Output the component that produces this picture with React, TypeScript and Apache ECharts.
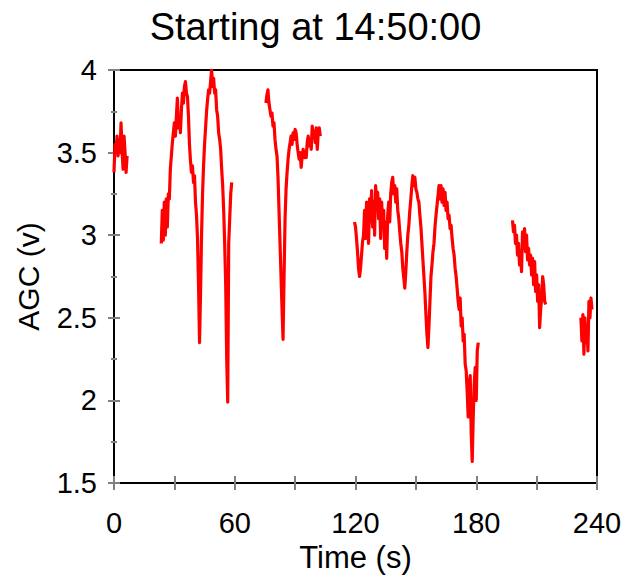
import React, { useEffect, useRef } from "react";
import * as echarts from "echarts";

// Sampling step of the recorded AGC trace (seconds)
const TIME_STEP = 0.5;

// Segment 1
const seg1Start = 0;
const seg1Values = [3.38, 3.55, 3.5, 3.6, 3.48, 3.58, 3.5, 3.68, 3.52, 3.4, 3.6, 3.5, 3.38, 3.48];

// Segment 2
const seg2Start = 23.5;
const seg2Values = [
  2.95, 3.15, 2.97, 3.2, 3.0, 3.22, 3.05, 3.25, 3.22, 3.4, 3.48, 3.56, 3.62, 3.68, 3.6, 3.72,
  3.83, 3.65, 3.72, 3.62, 3.76, 3.86, 3.8, 3.9, 3.93, 3.86, 3.84, 3.72, 3.55, 3.45, 3.38, 3.42,
  3.32, 3.36, 3.2, 3.12, 2.98, 2.7, 2.35, 2.65, 3.0, 3.25, 3.42, 3.55, 3.65, 3.75, 3.82, 3.88,
  3.86, 3.93, 4.0, 3.9, 3.95, 3.86, 3.88, 3.76, 3.72, 3.62, 3.58, 3.52, 3.4, 3.3, 3.15, 2.95,
  2.7, 2.25, 1.99, 2.95, 3.1, 3.25, 3.32,
];

// Segment 3
const seg3Start = 75.5;
const seg3Values = [
  3.8, 3.85, 3.88, 3.8, 3.76, 3.72, 3.74, 3.66, 3.68, 3.58, 3.52, 3.48, 3.35, 3.15, 2.95, 2.75,
  2.55, 2.37, 2.75, 3.1, 3.28, 3.38, 3.46, 3.52, 3.56, 3.6, 3.55, 3.62, 3.58, 3.64, 3.62, 3.55,
  3.5, 3.46, 3.5, 3.41, 3.48, 3.52, 3.47, 3.5, 3.47, 3.56, 3.6, 3.54, 3.58, 3.52, 3.66, 3.6,
  3.63, 3.56, 3.65, 3.52, 3.62, 3.65, 3.6,
];

// Segment 4
const seg4Start = 119.5;
const seg4Values = [
  3.08, 3.05, 2.98, 2.9, 2.8, 2.75, 2.8, 2.88, 2.96, 3.0, 3.15, 2.98, 3.2, 3.05, 2.95, 3.22,
  3.08, 3.27, 3.05, 3.2, 3.0, 3.3, 3.18, 3.26, 3.1, 3.22, 2.98, 3.2, 3.05, 3.15, 2.92, 3.08,
  2.86, 3.12, 3.2, 3.08, 3.25, 3.32, 3.35, 3.25, 3.3, 3.2, 3.28, 3.15, 3.1, 3.02, 2.95, 2.9,
  2.8, 2.74, 2.68, 2.78, 2.9, 3.0, 3.06, 3.15, 3.22, 3.3, 3.36, 3.3, 3.35, 3.28, 3.26, 3.22,
  3.2, 3.12, 3.05, 2.95, 2.85, 2.75, 2.65, 2.52, 2.4, 2.32, 2.45, 2.6, 2.75, 2.82, 2.9, 2.95,
  3.05, 3.12, 3.18, 3.24, 3.3, 3.22, 3.3, 3.2, 3.28, 3.18, 3.26, 3.15, 3.2, 3.1, 3.12, 3.04,
  3.06, 2.98, 2.92, 2.88, 2.8, 2.75, 2.68, 2.6, 2.55, 2.62, 2.45, 2.5, 2.36, 2.4, 2.22, 2.18,
  2.05, 1.9, 2.1, 2.15, 1.8, 1.63, 1.9, 2.1, 2.2, 2.0, 2.3, 2.35,
];

// Segment 5
const seg5Start = 198;
const seg5Values = [
  3.09, 3.02, 3.06, 2.95, 3.0, 2.88, 2.95, 2.82, 2.9, 2.78, 3.02, 2.92, 3.04, 2.9, 3.0, 2.85,
  2.92, 2.82, 2.88, 2.76, 2.86, 2.7, 2.84, 2.66, 2.76, 2.6, 2.7, 2.44, 2.55, 2.62, 2.75, 2.7,
  2.6, 2.58,
];

// Segment 6
const seg6Start = 232;
const seg6Values = [2.5, 2.36, 2.52, 2.28, 2.5, 2.35, 2.45, 2.3, 2.6, 2.5, 2.62, 2.55];

const segments: [number, number[]][] = [
  [seg1Start, seg1Values],
  [seg2Start, seg2Values],
  [seg3Start, seg3Values],
  [seg4Start, seg4Values],
  [seg5Start, seg5Values],
  [seg6Start, seg6Values],
];

const X_MIN = 0;
const X_MAX = 240;
const X_TICK = 30;
const X_LABEL_EVERY = 60;
const Y_MIN = 1.5;
const Y_MAX = 4;
const Y_TICK = 0.5;

const FONT = "'Liberation Sans', Arial, sans-serif";

export default function App() {
  const ref = useRef<HTMLDivElement>(null);

  useEffect(() => {
    if (!ref.current) return;
    const chart = echarts.init(ref.current, null, { renderer: "svg" });
    const tickStyle = { color: "#808080", width: 2 };
    const series = segments.map(([start, vals]) => ({
      type: "line",
      xAxisIndex: 0,
      yAxisIndex: 0,
      showSymbol: false,
      symbol: "none",
      data: vals.map((v, i) => [start + i * TIME_STEP, v]),
      lineStyle: { color: "#ff0000", width: 3.2, join: "round" },
      itemStyle: { color: "#ff0000" },
    }));

    chart.setOption({
      animation: false,
      backgroundColor: "#ffffff",
      title: {
        text: "Starting at 14:50:00",
        left: "center",
        top: 3,
        textStyle: { fontFamily: FONT, fontSize: 38, fontWeight: "normal", color: "#000" },
      },
      grid: {
        left: 114,
        right: 34,
        top: 70,
        bottom: 96,
        show: true,
        borderColor: "#000",
        borderWidth: 2,
        backgroundColor: "transparent",
      },
      xAxis: [
        {
          type: "value",
          min: X_MIN,
          max: X_MAX,
          interval: X_TICK,
          position: "bottom",
          name: "Time (s)",
          nameLocation: "middle",
          nameGap: 52,
          nameTextStyle: { fontFamily: FONT, fontSize: 31, color: "#000" },
          axisLine: { show: true, lineStyle: { color: "#000", width: 2 } },
          axisTick: { show: true, inside: false, length: 7, lineStyle: tickStyle },
          axisLabel: {
            margin: 25,
            fontFamily: FONT,
            fontSize: 29,
            color: "#000",
            formatter: (v: number) => (v % X_LABEL_EVERY === 0 ? String(v) : ""),
          },
          splitLine: { show: false },
        },
        {
          type: "value",
          min: X_MIN,
          max: X_MAX,
          interval: X_TICK,
          position: "bottom",
          axisLine: { show: false },
          axisTick: { show: true, inside: true, length: 7, lineStyle: tickStyle },
          axisLabel: { show: false },
          splitLine: { show: false },
        },
      ],
      yAxis: [
        {
          type: "value",
          min: Y_MIN,
          max: Y_MAX,
          interval: Y_TICK,
          position: "left",
          name: "AGC (v)",
          nameLocation: "middle",
          nameGap: 71,
          nameTextStyle: { fontFamily: FONT, fontSize: 30, color: "#000" },
          axisLine: { show: true, lineStyle: { color: "#000", width: 2 } },
          axisTick: { show: true, inside: false, length: 6, lineStyle: tickStyle },
          minorTick: { show: true, splitNumber: 2, length: 3, lineStyle: tickStyle },
          axisLabel: { margin: 17, fontFamily: FONT, fontSize: 29, color: "#000" },
          splitLine: { show: false },
        },
        {
          type: "value",
          min: Y_MIN,
          max: Y_MAX,
          interval: Y_TICK,
          position: "left",
          axisLine: { show: false },
          axisTick: { show: true, inside: true, length: 6, lineStyle: tickStyle },
          minorTick: { show: true, splitNumber: 2, length: 3, lineStyle: tickStyle },
          axisLabel: { show: false },
          splitLine: { show: false },
        },
      ],
      series,
    });
    return () => chart.dispose();
  }, []);

  return (
    <div
      ref={ref}
      style={{ position: "absolute", left: 0, top: 0, width: 631, height: 579, background: "#fff" }}
    />
  );
}
